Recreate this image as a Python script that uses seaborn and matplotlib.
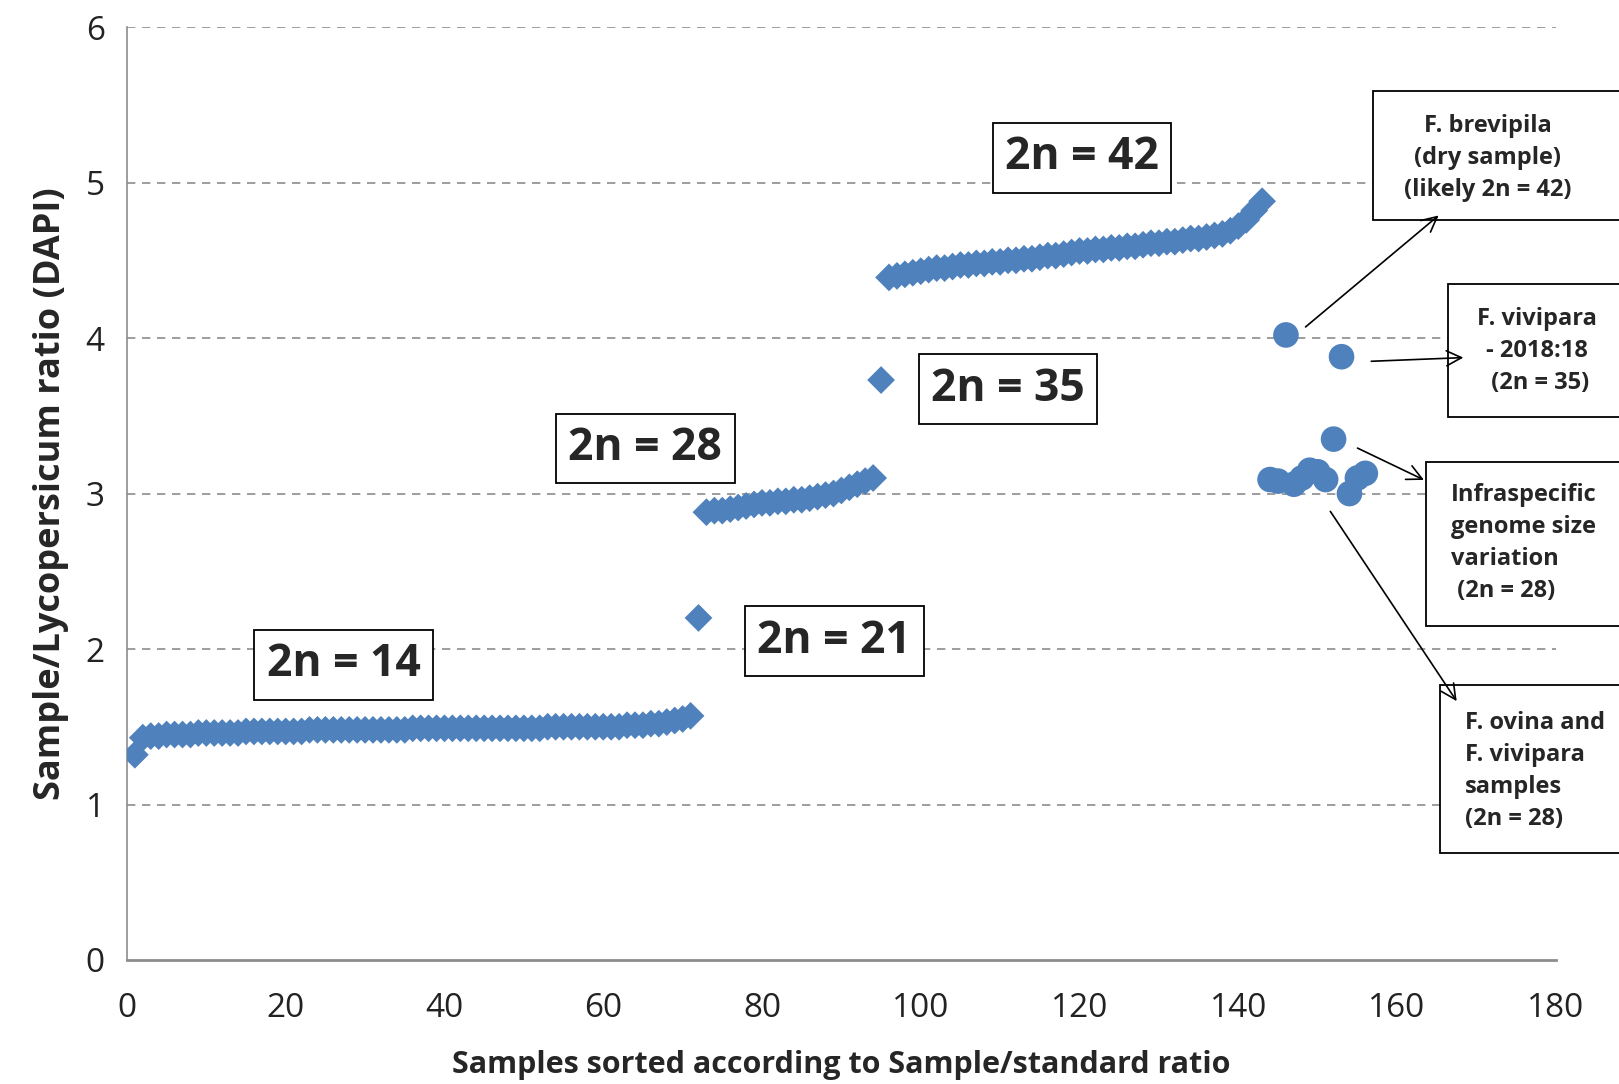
import pandas as pd
import seaborn as sns
import matplotlib.pyplot as plt
from matplotlib.patches import Rectangle

# sample ratios, sorted (diamonds)
ratio_2n14 = [1.32, 1.43, 1.44, 1.44, 1.45, 1.45, 1.45, 1.45, 1.46, 1.46,
              1.46, 1.46, 1.46, 1.46, 1.47, 1.47, 1.47, 1.47, 1.47, 1.47,
              1.47, 1.47, 1.48, 1.48, 1.48, 1.48, 1.48, 1.48, 1.48, 1.48,
              1.48, 1.48, 1.48, 1.48, 1.48, 1.49, 1.49, 1.49, 1.49, 1.49,
              1.49, 1.49, 1.49, 1.49, 1.49, 1.49, 1.49, 1.49, 1.49, 1.49,
              1.49, 1.49, 1.50, 1.50, 1.50, 1.50, 1.50, 1.50, 1.50, 1.50,
              1.50, 1.50, 1.51, 1.51, 1.51, 1.52, 1.52, 1.53, 1.54, 1.55,
              1.57]
ratio_2n21 = [2.20]
ratio_2n28 = [2.88, 2.89, 2.89, 2.90, 2.91, 2.92, 2.93, 2.94, 2.94, 2.95,
              2.95, 2.96, 2.96, 2.97, 2.98, 2.99, 3.00, 3.02, 3.04, 3.06,
              3.08, 3.10]
ratio_2n35 = [3.73]
ratio_2n42 = [4.39, 4.40, 4.41, 4.42, 4.43,
              4.44, 4.45, 4.45, 4.46, 4.47, 4.47, 4.48, 4.48, 4.49, 4.49,
              4.50, 4.50, 4.51, 4.51, 4.52, 4.53, 4.53, 4.54, 4.55, 4.56,
              4.56, 4.57, 4.57, 4.58, 4.58, 4.59, 4.59, 4.60, 4.61, 4.61,
              4.62, 4.62, 4.63, 4.64, 4.64, 4.65, 4.66, 4.67, 4.69, 4.72,
              4.76, 4.82, 4.88]

# special samples (circles)
special_idx = [144, 145, 146, 147, 148, 149, 150, 151, 152, 153, 154, 155, 156]
special_ratio = [3.09, 3.08, 4.02, 3.06, 3.10, 3.15, 3.14, 3.09, 3.35, 3.88,
                 3.00, 3.10, 3.13]

group_labels = ["2n = 14", "2n = 21", "2n = 28", "2n = 35", "2n = 42"]
group_label_pos = [(27.3, 1.90), (89.1, 2.05), (65.3, 3.29), (111.0, 3.67), (120.3, 5.16)]

note_texts = ["F. brevipila\n(dry sample)\n(likely 2n = 42)",
              "F. vivipara\n- 2018:18\n (2n = 35)",
              "Infraspecific\ngenome size\nvariation\n (2n = 28)",
              "F. ovina and\nF. vivipara\nsamples\n(2n = 28)"]
note_text_pos = [(171.4, 5.16), (177.6, 3.915), (166.8, 2.68), (168.5, 1.215)]
note_align = ["center", "center", "left", "left"]
# box corners: (x0, y0, y1)
note_box = [(157.0, 4.76, 5.59), (166.4, 3.49, 4.35), (163.7, 2.15, 3.205), (165.4, 0.69, 1.77)]
note_arrow_from = [(148.2, 4.06), (156.4, 3.85), (154.7, 3.30), (151.4, 2.90)]
note_arrow_to = [(165.5, 4.80), (168.7, 3.875), (163.7, 3.08), (167.7, 1.65)]

ratios = ratio_2n14 + ratio_2n21 + ratio_2n28 + ratio_2n35 + ratio_2n42
df = pd.DataFrame({"sample": range(1, len(ratios) + 1), "ratio": ratios})
df_special = pd.DataFrame({"sample": special_idx, "ratio": special_ratio})

sns.set_theme(style="white")
plt.rcParams['font.family'] = ['Open Sans', 'DejaVu Sans']

blue = "#4F81BD"
fig = plt.figure(figsize=(16.19, 10.84), dpi=100)
ax = fig.add_axes([0.0784, 0.1144, 0.8826, 0.8606])

sns.scatterplot(data=df, x="sample", y="ratio", marker="D", s=200,
                color=blue, edgecolor="none", ax=ax, zorder=3)
sns.scatterplot(data=df_special, x="sample", y="ratio", marker="o", s=340,
                color=blue, edgecolor="none", ax=ax, zorder=3)

ax.set_xlim(0, 180)
ax.set_ylim(0, 6)
ax.set_xticks(range(0, 181, 20))
ax.set_yticks(range(0, 7))
ax.tick_params(axis="both", length=0, labelsize=24, colors="#222222")
ax.tick_params(axis="x", pad=23)
ax.tick_params(axis="y", pad=16)
for y in range(1, 7):
    ax.axhline(y, color="#8c8c8c", lw=1.2, ls=(0, (5, 4)), zorder=1)
for s in ["top", "right"]:
    ax.spines[s].set_visible(False)
ax.spines["left"].set_color("#8c8c8c")
ax.spines["left"].set_linewidth(1.2)
ax.spines["bottom"].set_color("#8c8c8c")
ax.spines["bottom"].set_linewidth(2)

ax.set_xlabel("Samples sorted according to Sample/standard ratio",
              fontsize=22, fontweight="bold", labelpad=18)
ax.set_ylabel("Sample/Lycopersicum ratio (DAPI)",
              fontsize=26, fontweight="bold", labelpad=12)

for lab, (x, y) in zip(group_labels, group_label_pos):
    ax.text(x, y, lab, fontsize=32, fontweight="bold", ha="center", va="center",
            bbox=dict(boxstyle="square,pad=0.28", fc="white", ec="black", lw=1.3),
            zorder=4)

for (x0, y0, y1) in note_box:
    ax.add_patch(Rectangle((x0, y0), 200 - x0, y1 - y0, fc="white", ec="black",
                           lw=1.3, clip_on=False, zorder=4))

for txt, (x, y), al in zip(note_texts, note_text_pos, note_align):
    ax.text(x, y, txt, fontsize=17, fontweight="bold", ha=al, va="center",
            multialignment=al, linespacing=1.45, clip_on=False, zorder=5)

for p0, p1 in zip(note_arrow_from, note_arrow_to):
    ax.annotate("", xy=p1, xytext=p0, annotation_clip=False,
                arrowprops=dict(arrowstyle="->,head_length=0.9,head_width=0.45",
                                color="black", lw=1.2), zorder=6)

fig.savefig("out.png", dpi=100)
